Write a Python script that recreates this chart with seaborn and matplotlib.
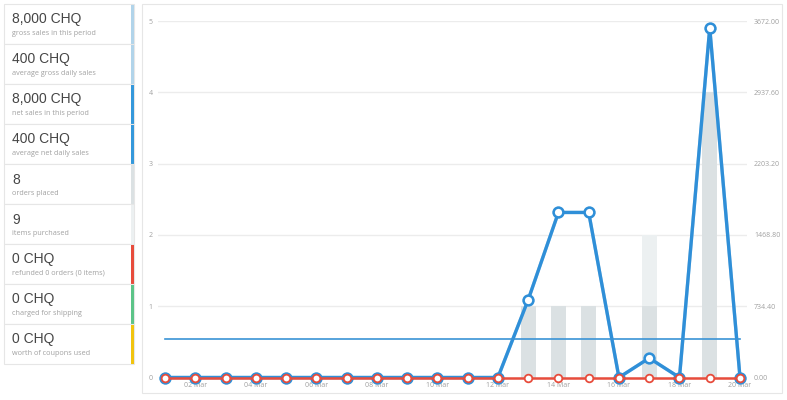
import matplotlib
matplotlib.use('Agg')
import matplotlib.pyplot as plt
import seaborn as sns
from matplotlib.patches import Rectangle

# summary panel on the left
summary_values = ['8,000 CHQ', '400 CHQ', '8,000 CHQ', '400 CHQ', '8', '9', '0 CHQ', '0 CHQ', '0 CHQ']
summary_labels = ['gross sales in this period', 'average gross daily sales',
                  'net sales in this period', 'average net daily sales',
                  'orders placed', 'items purchased', 'refunded 0 orders (0 items)',
                  'charged for shipping', 'worth of coupons used']
summary_colors = ['#b1d4ea', '#b1d4ea', '#3498db', '#3498db', '#dbe1e3',
                  '#ecf0f1', '#e74c3c', '#5cc488', '#f1c40f']

# daily data, 01 Mar - 20 Mar
days = [1, 2, 3, 4, 5, 6, 7, 8, 9, 10, 11, 12, 13, 14, 15, 16, 17, 18, 19, 20]
day_labels = ['01 Mar', '02 Mar', '03 Mar', '04 Mar', '05 Mar', '06 Mar', '07 Mar',
              '08 Mar', '09 Mar', '10 Mar', '11 Mar', '12 Mar', '13 Mar', '14 Mar',
              '15 Mar', '16 Mar', '17 Mar', '18 Mar', '19 Mar', '20 Mar']
order_count = [0, 0, 0, 0, 0, 0, 0, 0, 0, 0, 0, 0, 1, 1, 1, 0, 1, 0, 4, 0]
item_count = [0, 0, 0, 0, 0, 0, 0, 0, 0, 0, 0, 0, 1, 1, 1, 0, 2, 0, 4, 0]
gross_sales = [0, 0, 0, 0, 0, 0, 0, 0, 0, 0, 0, 0, 800, 1700, 1700, 0, 200, 0, 3600, 0]
net_sales = [0, 0, 0, 0, 0, 0, 0, 0, 0, 0, 0, 0, 800, 1700, 1700, 0, 200, 0, 3600, 0]
refunds = [0, 0, 0, 0, 0, 0, 0, 0, 0, 0, 0, 0, 0, 0, 0, 0, 0, 0, 0, 0]
avg_daily_sales = 400

count_ticks = [0, 1, 2, 3, 4, 5]
amount_ticks = [0, 734.4, 1468.8, 2203.2, 2937.6, 3672.0]
amount_tick_labels = ['0.00', '734.40', '1468.80', '2203.20', '2937.60', '3672.00']

plt.rcParams['font.family'] = ['Open Sans', 'DejaVu Sans']

W, H = 787, 400
fig = plt.figure(figsize=(W / 100, H / 100), dpi=100)

# background axes in pixel coords
bg = fig.add_axes([0, 0, 1, 1])
bg.set_xlim(0, W)
bg.set_ylim(H, 0)
bg.axis('off')

for i, (val, lab, col) in enumerate(zip(summary_values, summary_labels, summary_colors)):
    y0 = 4 + 40 * i
    bg.add_patch(Rectangle((4, y0), 130, 40, facecolor='white', edgecolor='#e6e6e6', lw=0.8))
    bg.add_patch(Rectangle((130.5, y0 + 0.5), 3.5, 39, facecolor=col, edgecolor='none'))
    bg.text(12, y0 + 19.5, val, fontsize=10, color='#464646', va='baseline',
            family=['Liberation Sans', 'DejaVu Sans'])
    bg.text(12, y0 + 31, lab, fontsize=5.2, color='#a0a0a0', va='baseline')

# chart panel
bg.add_patch(Rectangle((142, 4), 640, 389, facecolor='white', edgecolor='#e6e6e6', lw=0.8))

ax = fig.add_axes([158 / W, 1 - 377.5 / H, 589 / W, 356.5 / H])
ax.patch.set_alpha(0)

# bars: item count behind order count
sns.barplot(x=days, y=item_count, native_scale=True, color='#ecf0f1', saturation=1,
            width=0.5, errorbar=None, ax=ax)
sns.barplot(x=days, y=order_count, native_scale=True, color='#dbe1e3', saturation=1,
            width=0.5, errorbar=None, ax=ax)

ax.set_xlim(1 - 7 / 30.26, 20 + 7 / 30.26)
ax.set_ylim(0, 5)
ax.set_yticks(count_ticks)
ax.set_yticklabels([str(t) for t in count_ticks])
ax.set_xticks(days[1::2])
ax.set_xticklabels(day_labels[1::2])
ax.yaxis.grid(True, color='#ececec', lw=1)
ax.set_axisbelow(True)
ax.tick_params(axis='y', length=0, pad=4, labelsize=5, labelcolor='#a0a0a0')
ax.tick_params(axis='x', length=0, pad=3.5, labelsize=5, labelcolor='#a0a0a0')
ax.set_xlabel('')
ax.set_ylabel('')
sns.despine(ax=ax, left=True, bottom=True)

ax2 = ax.twinx()
ax2.set_ylim(0, 3672)

sns.lineplot(x=days, y=gross_sales, ax=ax2, color='#b1d4ea', lw=2.4, marker='o',
             markersize=7, markerfacecolor='white', markeredgecolor='#b1d4ea',
             markeredgewidth=1.8, clip_on=False, zorder=3)
sns.lineplot(x=days, y=net_sales, ax=ax2, color='#2f8fd8', lw=2.4, marker='o',
             markersize=7, markerfacecolor='white', markeredgecolor='#2f8fd8',
             markeredgewidth=1.8, clip_on=False, zorder=4)
sns.lineplot(x=[days[0], days[-1]], y=[avg_daily_sales, avg_daily_sales], ax=ax2,
             color='#3a93d6', lw=1.2, zorder=4)
sns.lineplot(x=days, y=refunds, ax=ax2, color='#e74c3c', lw=1.8, marker='o',
             markersize=5.5, markerfacecolor='white', markeredgecolor='#e74c3c',
             markeredgewidth=1.3, clip_on=False, zorder=5)

ax2.set_yticks(amount_ticks)
ax2.set_yticklabels(amount_tick_labels)
ax2.tick_params(axis='y', length=0, pad=5, labelsize=5, labelcolor='#a0a0a0')
ax2.set_ylabel('')
ax2.set_xlabel('')
for s in ax2.spines.values():
    s.set_visible(False)

fig.savefig('out.png', dpi=100, facecolor='white')
